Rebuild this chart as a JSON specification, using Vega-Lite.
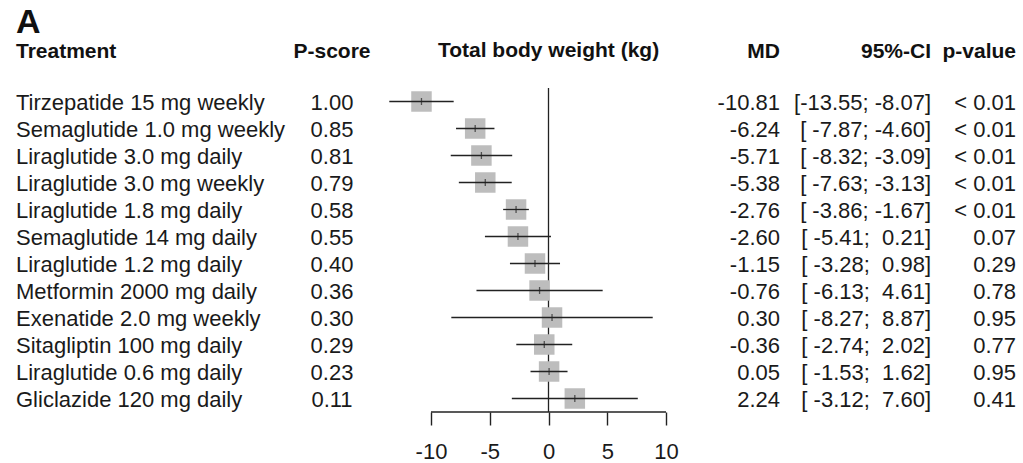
{
  "$schema": "https://vega.github.io/schema/vega-lite/v6.json",
  "padding": {"left": 16, "right": 7, "top": 6, "bottom": 0},
  "bounds": "flush",
  "title": {"text": "A", "anchor": "start", "fontSize": 34, "fontWeight": "bold", "font": "Liberation Sans", "color": "#111", "offset": 0},
  "config": {
    "view": {"stroke": null},
    "font": "Liberation Sans",
    "concat": {"spacing": 0},
    "title": {"fontSize": 21, "fontWeight": "bold", "color": "#111", "offset": 26, "font": "Liberation Sans"},
    "text": {"fontSize": 22, "color": "#1a1a1a", "baseline": "middle", "dy": 1}
  },
  "data": {"values": [
    {"treatment": "Tirzepatide 15 mg weekly", "pscore": "1.00", "md": -10.81, "lo": -13.55, "hi": -8.07, "mdl": "-10.81", "ci": "[-13.55; -8.07]", "p": "< 0.01"},
    {"treatment": "Semaglutide 1.0 mg weekly", "pscore": "0.85", "md": -6.24, "lo": -7.87, "hi": -4.60, "mdl": "-6.24", "ci": "[ -7.87; -4.60]", "p": "< 0.01"},
    {"treatment": "Liraglutide 3.0 mg daily", "pscore": "0.81", "md": -5.71, "lo": -8.32, "hi": -3.09, "mdl": "-5.71", "ci": "[ -8.32; -3.09]", "p": "< 0.01"},
    {"treatment": "Liraglutide 3.0 mg weekly", "pscore": "0.79", "md": -5.38, "lo": -7.63, "hi": -3.13, "mdl": "-5.38", "ci": "[ -7.63; -3.13]", "p": "< 0.01"},
    {"treatment": "Liraglutide 1.8 mg daily", "pscore": "0.58", "md": -2.76, "lo": -3.86, "hi": -1.67, "mdl": "-2.76", "ci": "[ -3.86; -1.67]", "p": "< 0.01"},
    {"treatment": "Semaglutide 14 mg daily", "pscore": "0.55", "md": -2.60, "lo": -5.41, "hi": 0.21, "mdl": "-2.60", "ci": "[ -5.41; \u00a00.21]", "p": "0.07"},
    {"treatment": "Liraglutide 1.2 mg daily", "pscore": "0.40", "md": -1.15, "lo": -3.28, "hi": 0.98, "mdl": "-1.15", "ci": "[ -3.28; \u00a00.98]", "p": "0.29"},
    {"treatment": "Metformin 2000 mg daily", "pscore": "0.36", "md": -0.76, "lo": -6.13, "hi": 4.61, "mdl": "-0.76", "ci": "[ -6.13; \u00a04.61]", "p": "0.78"},
    {"treatment": "Exenatide 2.0 mg weekly", "pscore": "0.30", "md": 0.30, "lo": -8.27, "hi": 8.87, "mdl": "0.30", "ci": "[ -8.27; \u00a08.87]", "p": "0.95"},
    {"treatment": "Sitagliptin 100 mg daily", "pscore": "0.29", "md": -0.36, "lo": -2.74, "hi": 2.02, "mdl": "-0.36", "ci": "[ -2.74; \u00a02.02]", "p": "0.77"},
    {"treatment": "Liraglutide 0.6 mg daily", "pscore": "0.23", "md": 0.05, "lo": -1.53, "hi": 1.62, "mdl": "0.05", "ci": "[ -1.53; \u00a01.62]", "p": "0.95"},
    {"treatment": "Gliclazide 120 mg daily", "pscore": "0.11", "md": 2.24, "lo": -3.12, "hi": 7.60, "mdl": "2.24", "ci": "[ -3.12; \u00a07.60]", "p": "0.41"}
  ]},
  "hconcat": [
    {
      "width": 264, "height": 324,
      "title": {"text": "Treatment", "anchor": "start"},
      "mark": {"type": "text", "align": "left"},
      "encoding": {
        "x": {"datum": 0, "type": "quantitative", "scale": {"domain": [0, 1]}, "axis": null},
        "y": {"field": "treatment", "type": "nominal", "sort": null, "axis": null, "scale": {"type": "point", "padding": 0.5}},
        "text": {"field": "treatment"}
      }
    },
    {
      "width": 104, "height": 324,
      "title": {"text": "P-score", "anchor": "middle"},
      "mark": {"type": "text", "align": "center"},
      "encoding": {
        "x": {"datum": 0.5, "type": "quantitative", "scale": {"domain": [0, 1]}, "axis": null},
        "y": {"field": "treatment", "type": "nominal", "sort": null, "axis": null, "scale": {"type": "point", "padding": 0.5}},
        "text": {"field": "pscore"}
      }
    },
    {
      "width": 329, "height": 324,
      "title": {"text": "Total body weight (kg)", "anchor": "middle"},
      "encoding": {
        "y": {"field": "treatment", "type": "nominal", "sort": null, "axis": null, "scale": {"type": "point", "padding": 0.5}}
      },
      "layer": [
        {
          "data": {"values": [{}]},
          "mark": {"type": "rule", "color": "#222", "strokeWidth": 1.3},
          "encoding": {
            "x": {"datum": 0, "type": "quantitative", "scale": {"domain": [-14, 14], "nice": false, "zero": false},
              "axis": {"values": [-10, -5, 0, 5, 10], "domain": false, "grid": false, "tickSize": 13, "tickWidth": 1.4, "tickColor": "#222", "labelFontSize": 22, "labelColor": "#1a1a1a", "labelPadding": 16, "labelFont": "Liberation Sans", "title": null, "labelFlush": false,
                "labelExpr": "datum.value < 0 ? '-' + abs(datum.value) : '' + datum.value"}},
            "y": null
          }
        },
        {
          "data": {"values": [{}]},
          "mark": {"type": "rule", "color": "#222", "strokeWidth": 1.4},
          "encoding": {
            "x": {"datum": -10, "type": "quantitative"},
            "x2": {"datum": 10},
            "y": {"value": {"expr": "height"}}
          }
        },
        {
          "mark": {"type": "square", "size": 420, "color": "#bdbdbd", "opacity": 1, "filled": true},
          "encoding": {"x": {"field": "md", "type": "quantitative"}}
        },
        {
          "mark": {"type": "rule", "color": "#222", "strokeWidth": 1.3},
          "encoding": {"x": {"field": "lo", "type": "quantitative"}, "x2": {"field": "hi"}}
        },
        {
          "mark": {"type": "tick", "color": "#222", "thickness": 1.3, "size": 7, "orient": "vertical"},
          "encoding": {"x": {"field": "md", "type": "quantitative"}}
        }
      ]
    },
    {
      "width": 67, "height": 324,
      "title": {"text": "MD", "anchor": "end"},
      "mark": {"type": "text", "align": "right"},
      "encoding": {
        "x": {"datum": 1, "type": "quantitative", "scale": {"domain": [0, 1]}, "axis": null},
        "y": {"field": "treatment", "type": "nominal", "sort": null, "axis": null, "scale": {"type": "point", "padding": 0.5}},
        "text": {"field": "mdl"}
      }
    },
    {
      "width": 151, "height": 324,
      "title": {"text": "95%-CI", "anchor": "end"},
      "mark": {"type": "text", "align": "right"},
      "encoding": {
        "x": {"datum": 1, "type": "quantitative", "scale": {"domain": [0, 1]}, "axis": null},
        "y": {"field": "treatment", "type": "nominal", "sort": null, "axis": null, "scale": {"type": "point", "padding": 0.5}},
        "text": {"field": "ci"}
      }
    },
    {
      "width": 85, "height": 324,
      "title": {"text": "p-value", "anchor": "end"},
      "mark": {"type": "text", "align": "right"},
      "encoding": {
        "x": {"datum": 1, "type": "quantitative", "scale": {"domain": [0, 1]}, "axis": null},
        "y": {"field": "treatment", "type": "nominal", "sort": null, "axis": null, "scale": {"type": "point", "padding": 0.5}},
        "text": {"field": "p"}
      }
    }
  ]
}
